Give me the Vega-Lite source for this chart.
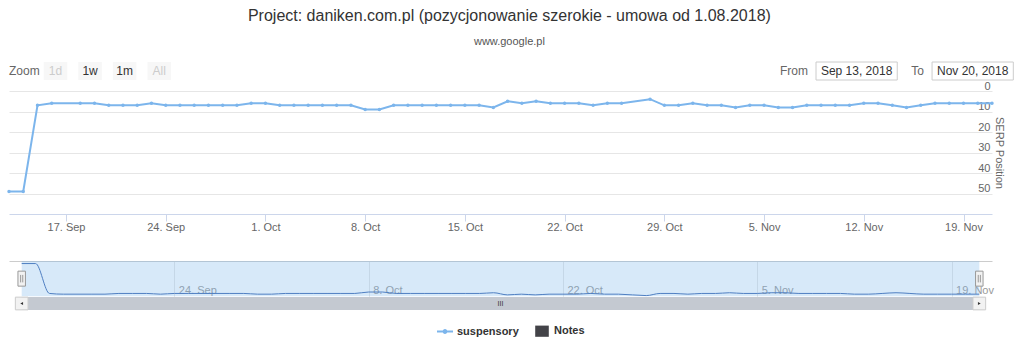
{
  "$schema": "https://vega.github.io/schema/vega-lite/v6.json",
  "padding": {"left": 5, "top": 8, "right": 0, "bottom": 0},
  "background": "white",
  "config": {
    "font": "Liberation Sans",
    "view": {"stroke": null},
    "axis": {"labelFont": "Liberation Sans", "titleFont": "Liberation Sans"},
    "legend": {"labelFont": "Liberation Sans"},
    "text": {"font": "Liberation Sans"}
  },
  "title": {
    "text": "Project: daniken.com.pl (pozycjonowanie szerokie - umowa od 1.08.2018)",
    "subtitle": "www.google.pl",
    "fontSize": 16,
    "fontWeight": "normal",
    "color": "#333333",
    "subtitleFontSize": 11,
    "subtitleColor": "#555555",
    "subtitlePadding": 12,
    "anchor": "middle",
    "offset": 14.5
  },
  "datasets": {
    "serp": [
      {"date": "2018/09/13", "position": 49, "series": "suspensory"},
      {"date": "2018/09/14", "position": 49, "series": "suspensory"},
      {"date": "2018/09/15", "position": 7, "series": "suspensory"},
      {"date": "2018/09/16", "position": 6, "series": "suspensory"},
      {"date": "2018/09/18", "position": 6, "series": "suspensory"},
      {"date": "2018/09/19", "position": 6, "series": "suspensory"},
      {"date": "2018/09/20", "position": 7, "series": "suspensory"},
      {"date": "2018/09/21", "position": 7, "series": "suspensory"},
      {"date": "2018/09/22", "position": 7, "series": "suspensory"},
      {"date": "2018/09/23", "position": 6, "series": "suspensory"},
      {"date": "2018/09/24", "position": 7, "series": "suspensory"},
      {"date": "2018/09/25", "position": 7, "series": "suspensory"},
      {"date": "2018/09/26", "position": 7, "series": "suspensory"},
      {"date": "2018/09/27", "position": 7, "series": "suspensory"},
      {"date": "2018/09/28", "position": 7, "series": "suspensory"},
      {"date": "2018/09/29", "position": 7, "series": "suspensory"},
      {"date": "2018/09/30", "position": 6, "series": "suspensory"},
      {"date": "2018/10/01", "position": 6, "series": "suspensory"},
      {"date": "2018/10/02", "position": 7, "series": "suspensory"},
      {"date": "2018/10/03", "position": 7, "series": "suspensory"},
      {"date": "2018/10/04", "position": 7, "series": "suspensory"},
      {"date": "2018/10/05", "position": 7, "series": "suspensory"},
      {"date": "2018/10/06", "position": 7, "series": "suspensory"},
      {"date": "2018/10/07", "position": 7, "series": "suspensory"},
      {"date": "2018/10/08", "position": 9, "series": "suspensory"},
      {"date": "2018/10/09", "position": 9, "series": "suspensory"},
      {"date": "2018/10/10", "position": 7, "series": "suspensory"},
      {"date": "2018/10/11", "position": 7, "series": "suspensory"},
      {"date": "2018/10/12", "position": 7, "series": "suspensory"},
      {"date": "2018/10/13", "position": 7, "series": "suspensory"},
      {"date": "2018/10/14", "position": 7, "series": "suspensory"},
      {"date": "2018/10/15", "position": 7, "series": "suspensory"},
      {"date": "2018/10/16", "position": 7, "series": "suspensory"},
      {"date": "2018/10/17", "position": 8, "series": "suspensory"},
      {"date": "2018/10/18", "position": 5, "series": "suspensory"},
      {"date": "2018/10/19", "position": 6, "series": "suspensory"},
      {"date": "2018/10/20", "position": 5, "series": "suspensory"},
      {"date": "2018/10/21", "position": 6, "series": "suspensory"},
      {"date": "2018/10/22", "position": 6, "series": "suspensory"},
      {"date": "2018/10/23", "position": 6, "series": "suspensory"},
      {"date": "2018/10/24", "position": 7, "series": "suspensory"},
      {"date": "2018/10/25", "position": 6, "series": "suspensory"},
      {"date": "2018/10/26", "position": 6, "series": "suspensory"},
      {"date": "2018/10/28", "position": 4, "series": "suspensory"},
      {"date": "2018/10/29", "position": 7, "series": "suspensory"},
      {"date": "2018/10/30", "position": 7, "series": "suspensory"},
      {"date": "2018/10/31", "position": 6, "series": "suspensory"},
      {"date": "2018/11/01", "position": 7, "series": "suspensory"},
      {"date": "2018/11/02", "position": 7, "series": "suspensory"},
      {"date": "2018/11/03", "position": 8, "series": "suspensory"},
      {"date": "2018/11/04", "position": 7, "series": "suspensory"},
      {"date": "2018/11/05", "position": 7, "series": "suspensory"},
      {"date": "2018/11/06", "position": 8, "series": "suspensory"},
      {"date": "2018/11/07", "position": 8, "series": "suspensory"},
      {"date": "2018/11/08", "position": 7, "series": "suspensory"},
      {"date": "2018/11/09", "position": 7, "series": "suspensory"},
      {"date": "2018/11/10", "position": 7, "series": "suspensory"},
      {"date": "2018/11/11", "position": 7, "series": "suspensory"},
      {"date": "2018/11/12", "position": 6, "series": "suspensory"},
      {"date": "2018/11/13", "position": 6, "series": "suspensory"},
      {"date": "2018/11/14", "position": 7, "series": "suspensory"},
      {"date": "2018/11/15", "position": 8, "series": "suspensory"},
      {"date": "2018/11/16", "position": 7, "series": "suspensory"},
      {"date": "2018/11/17", "position": 6, "series": "suspensory"},
      {"date": "2018/11/18", "position": 6, "series": "suspensory"},
      {"date": "2018/11/19", "position": 6, "series": "suspensory"},
      {"date": "2018/11/20", "position": 6, "series": "suspensory"},
      {"date": "2018/11/21", "position": 6, "series": "suspensory"}
    ],
    "buttons": [
      {"label": "1d", "state": "disabled"},
      {"label": "1w", "state": "enabled"},
      {"label": "1m", "state": "enabled"},
      {"label": "All", "state": "disabled"}
    ],
    "inputs": [
      {"label": "From", "value": "Sep 13, 2018"},
      {"label": "To", "value": "Nov 20, 2018"}
    ]
  },
  "bounds": "flush",
  "spacing": 0,
  "vconcat": [
    {
      "width": 983,
      "height": 18,
      "resolve": {"scale": {"x": "independent"}, "axis": {"x": "independent"}},
      "layer": [
        {
          "data": {"name": "buttons"},
          "encoding": {
            "x": {"field": "label", "type": "nominal", "sort": null, "axis": null,
                  "scale": {"range": [34.7, 162], "paddingInner": 0.32, "paddingOuter": 0}}
          },
          "layer": [
            {"mark": {"type": "rect", "fill": "#f7f7f7"}},
            {
              "transform": [{"filter": "datum.state == 'enabled'"}],
              "mark": {"type": "text", "fontSize": 12, "color": "#333333"},
              "encoding": {"text": {"field": "label"}}
            },
            {
              "transform": [{"filter": "datum.state == 'disabled'"}],
              "mark": {"type": "text", "fontSize": 12, "color": "#cccccc"},
              "encoding": {"text": {"field": "label"}}
            },
            {
              "transform": [{"filter": "datum.label == '1d'"}],
              "mark": {"type": "text", "align": "right", "dx": -4, "fontSize": 12, "color": "#666666"},
              "encoding": {
                "x": {"field": "label", "type": "nominal", "bandPosition": 0},
                "text": {"value": "Zoom"}
              }
            }
          ]
        },
        {
          "data": {"name": "inputs"},
          "encoding": {
            "x": {"field": "value", "type": "nominal", "sort": null, "axis": null,
                  "scale": {"range": [807, 1004.3], "paddingInner": 0.3, "paddingOuter": 0}}
          },
          "layer": [
            {"mark": {"type": "rect", "fill": "white", "stroke": "#cccccc", "strokeWidth": 1}},
            {
              "mark": {"type": "text", "fontSize": 12, "color": "#333333"},
              "encoding": {"text": {"field": "value"}}
            },
            {
              "mark": {"type": "text", "fontSize": 12, "align": "right", "dx": -8, "color": "#666666"},
              "encoding": {
                "x": {"field": "value", "type": "nominal", "bandPosition": 0},
                "text": {"field": "label"}
              }
            }
          ]
        }
      ]
    },
    {
      "width": 983,
      "height": 10.8,
      "data": {"values": []},
      "mark": {"type": "text"}
    },
    {
      "width": 983,
      "height": 123,
      "data": {"name": "serp", "format": {"parse": {"date": "date"}}},
      "encoding": {
        "x": {
          "field": "date", "type": "temporal",
          "scale": {"nice": false},
          "axis": {
            "title": null,
            "values": [
              {"year": 2018, "month": "Sep", "date": 17},
              {"year": 2018, "month": "Sep", "date": 24},
              {"year": 2018, "month": "Oct", "date": 1},
              {"year": 2018, "month": "Oct", "date": 8},
              {"year": 2018, "month": "Oct", "date": 15},
              {"year": 2018, "month": "Oct", "date": 22},
              {"year": 2018, "month": "Oct", "date": 29},
              {"year": 2018, "month": "Nov", "date": 5},
              {"year": 2018, "month": "Nov", "date": 12},
              {"year": 2018, "month": "Nov", "date": 19}
            ],
            "format": "%-d. %b",
            "grid": false,
            "domainColor": "#ccd6eb",
            "tickColor": "#ccd6eb",
            "tickSize": 7,
            "labelColor": "#666666",
            "labelFontSize": 11,
            "labelPadding": 0,
            "labelFlush": false,
            "labelOverlap": false
          }
        },
        "y": {
          "field": "position", "type": "quantitative",
          "scale": {"domain": [0, 60], "reverse": true, "nice": false, "zero": false},
          "axis": {
            "orient": "right",
            "values": [0, 10, 20, 30, 40, 50],
            "grid": true,
            "gridColor": "#e6e6e6",
            "domain": false,
            "ticks": false,
            "tickSize": 0,
            "labelAlign": "right",
            "labelBaseline": "alphabetic",
            "labelPadding": -2,
            "labelOffset": -2,
            "labelColor": "#666666",
            "labelFontSize": 11,
            "title": "SERP Position",
            "titleColor": "#666666",
            "titleFontSize": 11,
            "titleFontWeight": "normal",
            "titlePadding": 1
          }
        }
      },
      "layer": [
        {"mark": {"type": "line", "color": "#7cb5ec", "strokeWidth": 2}},
        {
          "mark": {"type": "point", "filled": true, "size": 12, "opacity": 1},
          "encoding": {
            "color": {
              "field": "series", "type": "nominal",
              "scale": {"domain": ["suspensory", "Notes"], "range": ["#7cb5ec", "#434348"]},
              "legend": {
                "orient": "none", "legendX": 428, "legendY": 261, "direction": "horizontal",
                "title": null, "symbolSize": 256, "symbolStrokeWidth": 0, "symbolOpacity": 1,
                "labelFontSize": 11, "labelFontWeight": "bold", "labelColor": "#333333",
                "columnPadding": 15, "labelOffset": 4, "padding": 0,
                "encode": {
                  "symbols": {
                    "update": {
                      "shape": {"signal": "datum.value === 'Notes' ? 'M-0.85,-0.7H0.85V0.7H-0.85Z' : 'M-1,-0.12H1V0.12H-1Z M-0.3,0A0.3,0.3,0,1,1,0.3,0A0.3,0.3,0,1,1,-0.3,0Z'"},
                      "opacity": {"value": 1}
                    }
                  }
                }
              }
            }
          }
        }
      ]
    },
    {
      "width": 983,
      "height": 46.4,
      "data": {"values": []},
      "mark": {"type": "text"}
    },
    {
      "width": 983,
      "height": 35.3,
      "data": {"name": "serp", "format": {"parse": {"date": "date"}}},
      "layer": [
        {
          "transform": [{"aggregate": [{"op": "min", "field": "date", "as": "start"}, {"op": "max", "field": "date", "as": "end"}]}],
          "mark": {"type": "rect", "fill": "#7cb5ec", "opacity": 0.3},
          "encoding": {
            "x": {"field": "start", "type": "temporal"},
            "x2": {"field": "end"}
          }
        },
        {
          "mark": {"type": "line", "color": "#4f7fc2", "strokeWidth": 1, "interpolate": "monotone"},
          "encoding": {
            "x": {
              "field": "date", "type": "temporal",
              "scale": {"nice": false, "padding": 12.7},
              "axis": {
                "title": null,
                "values": [
                  {"year": 2018, "month": "Sep", "date": 24},
                  {"year": 2018, "month": "Oct", "date": 8},
                  {"year": 2018, "month": "Oct", "date": 22},
                  {"year": 2018, "month": "Nov", "date": 5},
                  {"year": 2018, "month": "Nov", "date": 19}
                ],
                "format": "%-d. %b",
                "grid": true,
                "gridColor": "#e6e6e6",
                "domain": false,
                "ticks": false,
                "tickSize": 0,
                "labelAlign": "left",
                "labelBaseline": "alphabetic",
                "labelOffset": 4,
                "labelPadding": -3,
                "labelColor": "#999999",
                "labelFontSize": 11,
                "labelFlush": false,
                "labelOverlap": false
              }
            },
            "y": {
              "field": "position", "type": "quantitative",
              "scale": {"domain": [3, 52.6], "nice": false, "zero": false},
              "axis": {"values": [52.6], "grid": true, "gridColor": "#cccccc", "labels": false, "ticks": false, "domain": false, "title": null}
            }
          }
        },
        {
          "transform": [
            {"aggregate": [{"op": "min", "field": "date", "as": "start"}, {"op": "max", "field": "date", "as": "end"}]},
            {"fold": ["start", "end"]}
          ],
          "mark": {
            "type": "point",
            "shape": "M-0.5,-1H0.5V1H-0.5Z M-0.14,-0.5V0.5 M0.14,-0.5V0.5",
            "size": 225,
            "filled": true,
            "fill": "#f2f2f2",
            "stroke": "#999999",
            "strokeWidth": 1,
            "opacity": 1
          },
          "encoding": {"x": {"field": "value", "type": "temporal"}}
        }
      ]
    },
    {
      "width": 983,
      "height": 13,
      "data": {"name": "serp", "format": {"parse": {"date": "date"}}},
      "transform": [{"aggregate": [{"op": "min", "field": "date", "as": "start"}, {"op": "max", "field": "date", "as": "end"}]}],
      "layer": [
        {
          "mark": {"type": "rect", "fill": "#c4c9d1"},
          "encoding": {
            "x": {"field": "start", "type": "temporal", "axis": null, "scale": {"nice": false, "padding": 12.7}},
            "x2": {"field": "end"}
          }
        },
        {
          "mark": {"type": "square", "size": 161, "fill": "#f2f2f2", "stroke": "#cccccc", "strokeWidth": 1, "opacity": 1, "dx": -6.35},
          "encoding": {"x": {"field": "start", "type": "temporal"}}
        },
        {
          "mark": {"type": "square", "size": 161, "fill": "#f2f2f2", "stroke": "#cccccc", "strokeWidth": 1, "opacity": 1, "dx": 6.5},
          "encoding": {"x": {"field": "end", "type": "temporal"}}
        },
        {
          "mark": {"type": "point", "shape": "triangle-left", "size": 10, "filled": true, "color": "#333333", "opacity": 1, "dx": -6.35},
          "encoding": {"x": {"field": "start", "type": "temporal"}}
        },
        {
          "mark": {"type": "point", "shape": "triangle-right", "size": 10, "filled": true, "color": "#333333", "opacity": 1, "dx": 6.5},
          "encoding": {"x": {"field": "end", "type": "temporal"}}
        },
        {
          "mark": {"type": "text", "text": "III", "fontSize": 7, "color": "#333333"}
        }
      ]
    }
  ]
}
